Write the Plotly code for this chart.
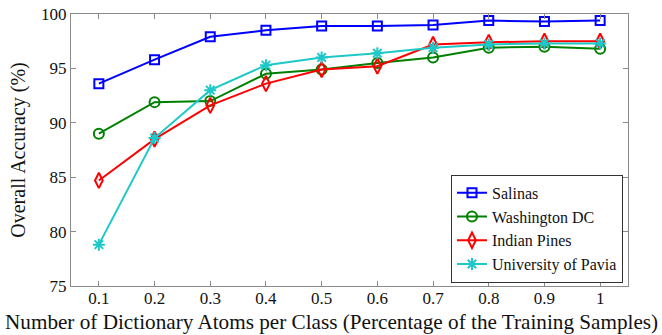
import plotly.graph_objects as go

# Dictionary size as a fraction of the training samples
atoms = [0.1, 0.2, 0.3, 0.4, 0.5, 0.6, 0.7, 0.8, 0.9, 1.0]

# Overall accuracy (%) per data set
salinas = [93.6, 95.8, 97.9, 98.5, 98.9, 98.9, 99.0, 99.4, 99.3, 99.4]
washington_dc = [89.0, 91.9, 92.0, 94.5, 94.9, 95.5, 96.0, 96.9, 97.0, 96.8]
indian_pines = [84.7, 88.5, 91.6, 93.6, 94.9, 95.2, 97.2, 97.4, 97.5, 97.5]
pavia = [78.8, 88.6, 93.0, 95.3, 96.0, 96.4, 96.9, 97.2, 97.3, 97.3]

x_ticks = [0.1, 0.2, 0.3, 0.4, 0.5, 0.6, 0.7, 0.8, 0.9, 1.0]
x_tick_text = ["0.1", "0.2", "0.3", "0.4", "0.5", "0.6", "0.7", "0.8", "0.9", "1"]
y_ticks = [75, 80, 85, 90, 95, 100]

series = [
    ("Salinas", salinas, "#0000FF", "square-open", 9),
    ("Washington DC", washington_dc, "#008000", "circle-open", 10),
    ("Indian Pines", indian_pines, "#FF0000", "diamond-tall-open", 11),
    ("University of Pavia", pavia, "#1EC8C8", "asterisk-open", 10),
]

FONT = "Liberation Serif"

fig = go.Figure()
for name, values, color, symbol, size in series:
    fig.add_trace(go.Scatter(
        x=atoms, y=values, name=name, mode="lines+markers",
        line=dict(color=color, width=2),
        marker=dict(symbol=symbol, size=size, color=color,
                    line=dict(color=color, width=2)),
    ))

axis_common = dict(
    showline=True, linecolor="#8a8a8a", linewidth=1, mirror="ticks",
    ticks="inside", ticklen=5, tickcolor="#8a8a8a", tickwidth=1,
    showgrid=False, zeroline=False,
    tickfont=dict(family=FONT, size=17, color="#111"),
)

fig.update_xaxes(
    range=[0.05, 1.05], tickvals=x_ticks, ticktext=x_tick_text,
    ticklabelstandoff=-3,
    **axis_common,
)
fig.update_yaxes(
    range=[75, 100], tickvals=y_ticks,
    title=dict(text="Overall Accuracy (%)",
               font=dict(family=FONT, size=20, color="#111"), standoff=10),
    **axis_common,
)

# x-axis caption, centred on the page rather than on the plot area
fig.add_annotation(
    text="Number of Dictionary Atoms per Class (Percentage of the Training Samples)",
    xref="paper", yref="paper", x=0.4668, y=-0.133,
    xanchor="center", yanchor="middle", showarrow=False,
    font=dict(family=FONT, size=21.2, color="#111"),
)

fig.update_layout(
    width=662, height=335,
    margin=dict(l=71, r=34, t=14, b=49),
    paper_bgcolor="white", plot_bgcolor="white",
    template="none",
    font=dict(family=FONT, color="#111"),
    showlegend=True,
    legend=dict(
        x=0.991, y=0.012, xanchor="right", yanchor="bottom",
        bgcolor="white", bordercolor="#333", borderwidth=1,
        font=dict(family=FONT, size=16, color="#111"),
        tracegroupgap=0, itemwidth=30,
    ),
)

fig.write_html("out.html")
